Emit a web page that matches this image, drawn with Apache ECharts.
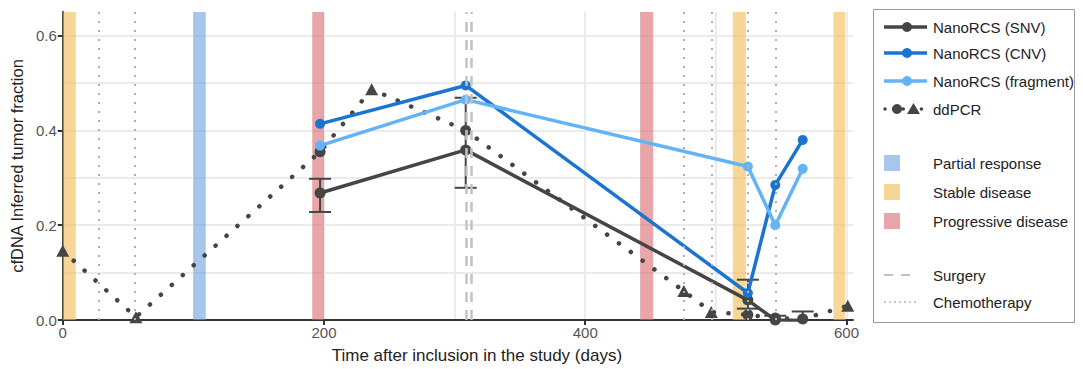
<!DOCTYPE html>
<html>
<head>
<meta charset="utf-8">
<script src="https://cdn.jsdelivr.net/npm/echarts@6/dist/echarts.min.js"></script>
<style>
  html, body { margin: 0; padding: 0; background: #fff; }
  #tumorChart { width: 1083px; height: 369px; }
</style>
</head>
<body>
<div id="tumorChart"></div>
<script>
// NanoRCS samples (days after inclusion)
const nanoDays = [197, 308.5, 524.5, 545.5, 566.5];
const snvValues = [0.268, 0.359, 0.042, 0.0, -0.001];
const snvLow = [0.228, 0.279, 0.024, -0.02, -0.02];
const snvHigh = [0.298, 0.469, 0.085, 0.009, 0.018];
const cnvValues = [0.414, 0.495, 0.057, 0.285, 0.38];
const fragmentValues = [0.368, 0.465, 0.324, 0.2, 0.319];

// ddPCR samples
const ddpcrDays = [0, 56, 197, 236.5, 308.5, 475.5, 496.5, 524.5, 545.5, 566.5, 601];
const ddpcrValues = [0.146, 0.006, 0.355, 0.487, 0.40, 0.061, 0.017, 0.011, 0.004, 0.002, 0.03];
const ddpcrShape = ["triangle", "triangle", "circle", "triangle", "circle", "triangle", "triangle", "circle", "circle", "circle", "triangle"];

// clinical events
const responseLabels = ["Stable disease", "Partial response", "Progressive disease", "Progressive disease", "Stable disease", "Stable disease"];
const responseStart = [0, 100, 191, 442, 513, 590];
const responseEnd = [10, 109.5, 200, 452, 523, 599];
const surgeryDays = [309, 313];
const chemoDays = [27.5, 55, 475.5, 497, 524.5, 545.5];

// axis ticks
const xTicks = [0, 200, 400, 600];
const xMinorGrid = [100, 300, 500];
const yTicks = [0, 0.2, 0.4, 0.6];
const yMinorGrid = [0.1, 0.3, 0.5];

const colors = {
  snv: "#454545",
  cnv: "#1a74d0",
  fragment: "#62b4f6",
  "Partial response": "rgba(107,160,222,0.6)",
  "Stable disease": "rgba(243,187,80,0.6)",
  "Progressive disease": "rgba(217,107,110,0.6)"
};
const FONT = '"Liberation Sans", Arial, sans-serif';

let chart = echarts.init(document.getElementById("tumorChart"), null, { renderer: "svg" });

function pairs(xs, ys) {
  return xs.map((x, i) => [x, ys[i]]);
}

const ddpcrData = ddpcrDays.map((d, i) => ({
  value: [d, ddpcrValues[i]],
  symbol: ddpcrShape[i],
  symbolSize: ddpcrShape[i] === "circle" ? 11 : [13, 12]
}));

// legend drawn by hand (mixed icons and gaps)
const lx = 884, tx = 933;
const legendGraphics = [
  { type: "rect", shape: { x: 873.5, y: 9.5, width: 201, height: 313 }, style: { fill: "#fff", stroke: "#9a9a9a", lineWidth: 1 } }
];
function legendText(label, y) {
  legendGraphics.push({ type: "text", x: tx, y: y, style: { text: label, fill: "#222", font: "15px " + FONT, verticalAlign: "middle" } });
}
[["NanoRCS (SNV)", colors.snv, 27], ["NanoRCS (CNV)", colors.cnv, 53], ["NanoRCS (fragment)", colors.fragment, 81]].forEach(r => {
  legendGraphics.push({ type: "line", shape: { x1: lx, y1: r[2], x2: lx + 43, y2: r[2] }, style: { stroke: r[1], lineWidth: 3.5 } });
  legendGraphics.push({ type: "circle", shape: { cx: lx + 23, cy: r[2], r: 5 }, style: { fill: r[1] } });
  legendText(r[0], r[2]);
});
legendGraphics.push({ type: "line", shape: { x1: lx + 1, y1: 109, x2: lx + 43, y2: 109 }, style: { stroke: colors.snv, lineWidth: 3.5, lineDash: [0.1, 9], lineCap: "round" } });
legendGraphics.push({ type: "circle", shape: { cx: lx + 13, cy: 109, r: 5 }, style: { fill: colors.snv } });
legendGraphics.push({ type: "polygon", shape: { points: [[lx + 23, 114], [lx + 29.5, 103], [lx + 36, 114]] }, style: { fill: colors.snv } });
legendText("ddPCR", 109);
[["Partial response", 163], ["Stable disease", 192], ["Progressive disease", 221]].forEach(r => {
  legendGraphics.push({ type: "rect", shape: { x: lx, y: r[1] - 8, width: 16, height: 16 }, style: { fill: colors[r[0]] } });
  legendText(r[0], r[1]);
});
legendGraphics.push({ type: "line", shape: { x1: lx, y1: 275, x2: lx + 30, y2: 275 }, style: { stroke: "#c0c0c0", lineWidth: 2, lineDash: [9, 8] } });
legendText("Surgery", 275);
legendGraphics.push({ type: "line", shape: { x1: lx, y1: 302, x2: lx + 32, y2: 302 }, style: { stroke: "#b5b5b5", lineWidth: 1.5, lineDash: [2, 3] } });
legendText("Chemotherapy", 302);

const axisLineStyle = { color: "#333", width: 2 };
const gridLineStyle = { color: "#ebebeb", width: 2 };

const option = {
  animation: false,
  grid: { left: 62, right: 230, top: 12, bottom: 49 },
  xAxis: [
    {
      type: "value",
      min: 0,
      max: 605,
      name: "Time after inclusion in the study (days)",
      nameLocation: "middle",
      nameGap: 27,
      nameTextStyle: { color: "#222", fontSize: 17, fontFamily: FONT, padding: [0, 0, 0, 38] },
      axisLine: { lineStyle: axisLineStyle },
      axisTick: { length: 5, lineStyle: axisLineStyle, customValues: xTicks },
      axisLabel: { color: "#555", fontSize: 15, fontFamily: FONT, margin: 5, customValues: xTicks },
      splitLine: { show: true, lineStyle: gridLineStyle }
    },
    {
      type: "value",
      min: 0,
      max: 605,
      position: "bottom",
      axisLine: { show: false },
      axisTick: { show: false, customValues: xMinorGrid },
      axisLabel: { show: false, customValues: xMinorGrid },
      splitLine: { show: true, lineStyle: gridLineStyle }
    }
  ],
  yAxis: [
    {
      type: "value",
      min: 0,
      max: 0.65,
      name: "cfDNA Inferred tumor fraction",
      nameLocation: "middle",
      nameGap: 33,
      nameTextStyle: { color: "#222", fontSize: 16.5, fontFamily: FONT },
      axisLine: { show: true, lineStyle: axisLineStyle },
      axisTick: { show: true, length: 5, lineStyle: axisLineStyle, customValues: yTicks },
      axisLabel: { color: "#555", fontSize: 15, fontFamily: FONT, margin: 6, customValues: yTicks, formatter: v => v.toFixed(1) },
      splitLine: { show: true, lineStyle: gridLineStyle }
    },
    {
      type: "value",
      min: 0,
      max: 0.65,
      position: "left",
      axisLine: { show: false },
      axisTick: { show: false, customValues: yMinorGrid },
      axisLabel: { show: false, customValues: yMinorGrid },
      splitLine: { show: true, lineStyle: gridLineStyle }
    }
  ],
  graphic: legendGraphics,
  series: [
    {
      name: "response",
      type: "line",
      data: [],
      silent: true,
      markArea: {
        silent: true,
        data: responseLabels.map((lab, i) => [
          { xAxis: responseStart[i], itemStyle: { color: colors[lab] } },
          { xAxis: responseEnd[i] }
        ])
      }
    },
    {
      name: "treatment",
      type: "line",
      data: [],
      silent: true,
      markLine: {
        silent: true,
        symbol: "none",
        label: { show: false },
        data: chemoDays.map(d => ({ xAxis: d, lineStyle: { color: "#b0b0b0", width: 2, type: [2, 7] } }))
          .concat(surgeryDays.map(d => ({ xAxis: d, lineStyle: { color: "#c2c2c2", width: 2.5, type: [10, 8] } })))
      }
    },
    {
      name: "ddPCR",
      type: "line",
      data: ddpcrData,
      itemStyle: { color: colors.snv },
      lineStyle: { color: colors.snv, width: 4.5, type: [0.1, 14.6], cap: "round" }
    },
    {
      name: "SNV error",
      type: "custom",
      data: nanoDays.map((d, i) => [d, snvLow[i], snvHigh[i]]),
      renderItem: function (params, api) {
        const x = api.value(0);
        const lo = api.value(1);
        const hi = api.value(2);
        const top = api.coord([x, hi]);
        const bottom = api.coord([x, Math.max(lo, 0)]);
        const half = 11;
        const style = { stroke: colors.snv, lineWidth: 2 };
        const children = [
          { type: "line", shape: { x1: top[0], y1: top[1], x2: bottom[0], y2: bottom[1] }, style: style },
          { type: "line", shape: { x1: top[0] - half, y1: top[1], x2: top[0] + half, y2: top[1] }, style: style }
        ];
        if (lo >= 0) {
          children.push({ type: "line", shape: { x1: bottom[0] - half, y1: bottom[1], x2: bottom[0] + half, y2: bottom[1] }, style: style });
        }
        return { type: "group", children: children };
      }
    },
    {
      name: "NanoRCS (SNV)",
      type: "line",
      data: pairs(nanoDays, snvValues),
      symbol: "circle",
      symbolSize: 11,
      itemStyle: { color: colors.snv },
      lineStyle: { color: colors.snv, width: 3.5 }
    },
    {
      name: "NanoRCS (CNV)",
      type: "line",
      data: pairs(nanoDays, cnvValues),
      symbol: "circle",
      symbolSize: 10,
      itemStyle: { color: colors.cnv },
      lineStyle: { color: colors.cnv, width: 3.5 }
    },
    {
      name: "NanoRCS (fragment)",
      type: "line",
      data: pairs(nanoDays, fragmentValues),
      symbol: "circle",
      symbolSize: 10,
      itemStyle: { color: colors.fragment },
      lineStyle: { color: colors.fragment, width: 3.5 }
    }
  ]
};

chart.setOption(option);

window.addEventListener("resize", function () {
  chart.resize();
});
</script>
</body>
</html>
